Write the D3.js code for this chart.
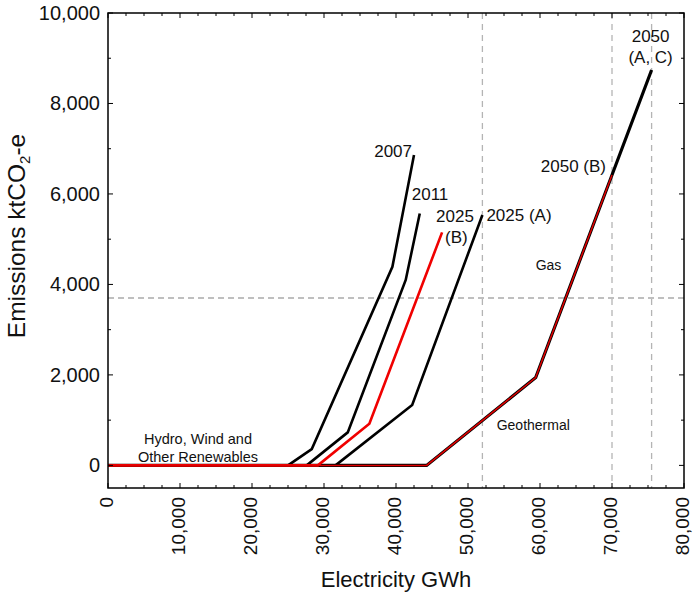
<!DOCTYPE html>
<html>
<head>
<meta charset="utf-8">
<script src="https://cdn.jsdelivr.net/npm/d3@7"></script>
<style>
  html, body { margin: 0; padding: 0; background: #fff; }
  svg { display: block; font-family: "Liberation Sans", Arial, sans-serif; }
</style>
</head>
<body>
<svg id="chart" width="693" height="594"></svg>
<script>
// Electricity supply curves: cumulative generation (GWh) vs emissions (ktCO2-e)
const gwh2007 = [0, 25000, 28300, 39500, 42500];
const kt2007  = [0, 0, 360, 4390, 6860];

const gwh2011 = [0, 27600, 33300, 41350, 43300];
const kt2011  = [0, 0, 730, 4100, 5570];

const gwh2025A = [0, 31600, 42250, 52000];
const kt2025A  = [0, 0, 1335, 5535];

const gwh2025B = [0, 29150, 36300, 46400];
const kt2025B  = [0, 0, 920, 5150];

const gwh2050AC = [0, 44250, 59400, 70000, 75500];
const kt2050AC  = [0, 0, 1940, 6420, 8740];

const gwh2050B = [0, 44250, 59400, 70000];
const kt2050B  = [0, 0, 1940, 6420];

const demandGWh = [52000, 70000, 75500];   // vertical reference lines
const thresholdKt = [3700];                // horizontal reference line

const xTickValues = [0, 10000, 20000, 30000, 40000, 50000, 60000, 70000, 80000];
const yTickValues = [0, 2000, 4000, 6000, 8000, 10000];

const svg = d3.select("#chart");
const plotL = 108, plotR = 684, plotT = 13, plotB = 488;

const x = d3.scaleLinear().domain([0, 80000]).range([plotL, plotR]);
const y = d3.scaleLinear().domain([-500, 10000]).range([plotB, plotT]);
const fmt = d3.format(",");

// reference lines
svg.append("g").selectAll("line").data(demandGWh).join("line")
  .attr("x1", d => x(d)).attr("x2", d => x(d))
  .attr("y1", plotT).attr("y2", plotB)
  .attr("stroke", "#b4b4b4").attr("stroke-width", 1.3)
  .attr("stroke-dasharray", "6,5");
svg.append("g").selectAll("line").data(thresholdKt).join("line")
  .attr("x1", plotL).attr("x2", plotR)
  .attr("y1", d => y(d)).attr("y2", d => y(d))
  .attr("stroke", "#808080").attr("stroke-width", 1.2)
  .attr("stroke-dasharray", "6,4");

// curves
const line = d3.line().x(d => x(d[0])).y(d => y(d[1]));
const curve = (xs, ys) => xs.map((v, i) => [v, ys[i]]);

const blackCurves = [
  curve(gwh2007, kt2007),
  curve(gwh2011, kt2011),
  curve(gwh2025A, kt2025A)
];
svg.append("g").selectAll("path").data(blackCurves).join("path")
  .attr("d", line).attr("fill", "none")
  .attr("stroke", "#000").attr("stroke-width", 2.6)
  .attr("stroke-linejoin", "miter");

svg.append("path").datum(curve(gwh2050AC, kt2050AC))
  .attr("d", line).attr("fill", "none")
  .attr("stroke", "#000").attr("stroke-width", 3.2);

svg.append("path").datum(curve(gwh2025B, kt2025B))
  .attr("d", line).attr("fill", "none")
  .attr("stroke", "#f00000").attr("stroke-width", 2.6);

svg.append("path").datum(curve(gwh2050B, kt2050B))
  .attr("d", line).attr("fill", "none")
  .attr("stroke", "#e00000").attr("stroke-width", 1.5);

// axes with inward ticks
const minorX = d3.range(0, 80001, 2500).filter(v => v % 10000 !== 0);
const minorY = d3.range(0, 10001, 1000).filter(v => v % 2000 !== 0);

function tickMarks(g, vals, len, orient) {
  g.selectAll("line").data(vals).join("line")
    .attr("stroke", "#000").attr("stroke-width", 1)
    .each(function(d) {
      const s = d3.select(this);
      if (orient === "bottom") s.attr("x1", x(d)).attr("x2", x(d)).attr("y1", plotB).attr("y2", plotB - len);
      if (orient === "top")    s.attr("x1", x(d)).attr("x2", x(d)).attr("y1", plotT).attr("y2", plotT + len);
      if (orient === "left")   s.attr("y1", y(d)).attr("y2", y(d)).attr("x1", plotL).attr("x2", plotL + len);
      if (orient === "right")  s.attr("y1", y(d)).attr("y2", y(d)).attr("x1", plotR).attr("x2", plotR - len);
    });
}
["bottom", "top"].forEach(o => {
  tickMarks(svg.append("g"), xTickValues, 5, o);
  tickMarks(svg.append("g"), minorX, 3, o);
});
["left", "right"].forEach(o => {
  tickMarks(svg.append("g"), yTickValues, 5, o);
  tickMarks(svg.append("g"), minorY, 3, o);
});

svg.append("rect")
  .attr("x", plotL).attr("y", plotT)
  .attr("width", plotR - plotL).attr("height", plotB - plotT)
  .attr("fill", "none").attr("stroke", "#000").attr("stroke-width", 1.5);

// tick labels
svg.append("g").selectAll("text").data(yTickValues).join("text")
  .attr("x", plotL - 8).attr("y", d => y(d)).attr("dy", "0.35em")
  .attr("text-anchor", "end").attr("font-size", 20).attr("fill", "#111")
  .text(fmt);

svg.append("g").selectAll("text").data(xTickValues).join("text")
  .attr("transform", d => `translate(${x(d)},${plotB + 9}) rotate(-90)`)
  .attr("dy", "0.28em")
  .attr("text-anchor", "end").attr("font-size", 19).attr("fill", "#111")
  .text(fmt);

// axis titles
svg.append("text")
  .attr("x", (plotL + plotR) / 2).attr("y", 587)
  .attr("text-anchor", "middle").attr("font-size", 22).attr("fill", "#111")
  .text("Electricity GWh");

const yt = svg.append("text")
  .attr("transform", "translate(25,236) rotate(-90)")
  .attr("text-anchor", "middle").attr("font-size", 24.5).attr("fill", "#111");
yt.append("tspan").text("Emissions ktCO");
yt.append("tspan").attr("font-size", 15).attr("dy", 5).text("2");
yt.append("tspan").attr("dy", -5).text("-e");

// curve labels
const labels = [
  { t: "2007", gx: 42500, gy: 6860, dx: -2, dy: 2, a: "end", fs: 17 },
  { t: "2011", gx: 43300, gy: 5570, dx: -8, dy: -13, a: "start", fs: 17 },
  { t: "2025", gx: 46400, gy: 5150, dx: -6, dy: -10, a: "start", fs: 17 },
  { t: "(B)", gx: 46400, gy: 5150, dx: 3, dy: 11, a: "start", fs: 17 },
  { t: "2025 (A)", gx: 52000, gy: 5535, dx: 4, dy: 6, a: "start", fs: 17 },
  { t: "2050 (B)", gx: 70000, gy: 6420, dx: -6, dy: -3, a: "end", fs: 17 },
  { t: "2050", gx: 75500, gy: 8740, dx: -1, dy: -28, a: "middle", fs: 17 },
  { t: "(A, C)", gx: 75500, gy: 8740, dx: -1, dy: -7, a: "middle", fs: 17 },
  { t: "Gas", gx: 59400, gy: 3700, dx: 0, dy: -28, a: "start", fs: 14 },
  { t: "Geothermal", gx: 59400, gy: 1940, dx: -39, dy: 52, a: "start", fs: 14 },
  { t: "Hydro, Wind and", gx: 12500, gy: 0, dx: 0, dy: -21, a: "middle", fs: 14.5 },
  { t: "Other Renewables", gx: 12500, gy: 0, dx: 0, dy: -3, a: "middle", fs: 14.5 }
];
svg.append("g").selectAll("text").data(labels).join("text")
  .attr("x", d => x(d.gx) + d.dx).attr("y", d => y(d.gy) + d.dy)
  .attr("text-anchor", d => d.a).attr("font-size", d => d.fs)
  .attr("fill", "#111")
  .text(d => d.t);
</script>
</body>
</html>
